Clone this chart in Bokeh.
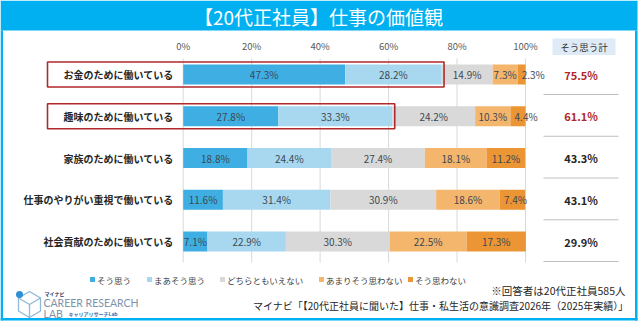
from bokeh.plotting import figure
from bokeh.models import Range1d
from bokeh.core.properties import value
from bokeh.embed import file_html
from bokeh.resources import INLINE

# ---------------- data ----------------
title = "【20代正社員】仕事の価値観"
categories = ["お金のために働いている", "趣味のために働いている", "家族のために働いている",
              "仕事のやりがい重視で働いている", "社会貢献のために働いている"]
series_names = ["そう思う", "まあそう思う", "どちらともいえない", "あまりそう思わない", "そう思わない"]
sou_omou = [47.3, 27.8, 18.8, 11.6, 7.1]
maa_sou_omou = [28.2, 33.3, 24.4, 31.4, 22.9]
dochira = [14.9, 24.2, 27.4, 30.9, 30.3]
amari = [7.3, 10.3, 18.1, 18.6, 22.5]
sou_omowanai = [2.3, 4.4, 11.2, 7.4, 17.3]
total_label = "そう思う計"
totals = [75.5, 61.1, 43.3, 43.1, 29.9]
highlight = [True, True, False, False, False]
x_ticks = [0, 20, 40, 60, 80, 100]
x_tick_labels = ["0%", "20%", "40%", "60%", "80%", "100%"]
note1 = "※回答者は20代正社員585人"
note2 = "マイナビ「【20代正社員に聞いた】仕事・私生活の意識調査2026年（2025年実績）」"

# ---------------- style ----------------
FONT = "Noto Sans CJK JP"
colors = ["#3FAFE3", "#A8D8F0", "#D9D9D9", "#F4B56D", "#EC9535"]
CYAN = "#00B0F0"
LABEL_COLOR = "#3D4852"
X0, S = 182.7, 3.423          # pixel of 0 %, pixels per 1 %


def X(px):
    return (px - X0) / S


p = figure(width=641, height=321, x_range=Range1d(X(0), X(641)), y_range=Range1d(321, 0),
           output_backend="svg", toolbar_location=None, min_border=0,
           x_axis_location=None, y_axis_location=None)
p.grid.visible = False
p.outline_line_color = None
p.background_fill_color = "white"
p.border_fill_color = "white"

# frame and title band
p.quad(left=[X(0)], right=[X(637)], top=[0], bottom=[30], fill_color=CYAN, line_color=None)
p.quad(left=[X(0), X(634.5), X(0)], right=[X(2.5), X(637), X(637)], top=[30, 30, 317.5],
       bottom=[320, 320, 320], fill_color=CYAN, line_color=None)
p.text(x=[X(318)], y=[15.5], text=[title], text_align="center", text_baseline="middle",
       text_font=value(FONT), text_font_size="19px", text_color="white")

# rows
n = len(categories)
row_y = [74 + 41.75 * i for i in range(n)]

# grid lines + tick labels
p.segment(x0=x_ticks, x1=x_ticks, y0=[58] * 6, y1=[262] * 6, line_color="#D9D9D9", line_width=1)
p.text(x=x_ticks, y=[45] * 6, text=x_tick_labels, text_align="center", text_baseline="middle",
       text_font=value(FONT), text_font_size="9.5px", text_color="#595959")

# stacked bars
all_series = [sou_omou, maa_sou_omou, dochira, amari, sou_omowanai]
cum = [0.0] * n
for si, vals in enumerate(all_series):
    left = cum[:]
    right = [l + v for l, v in zip(left, vals)]
    p.hbar(y=row_y, left=left, right=right, height=20, fill_color=colors[si], line_color=None)
    last = si == len(all_series) - 1
    cx, cy, ct, lx, ly, lt = [], [], [], [], [], []
    for l, v, y in zip(left, vals, row_y):
        if last and v < 8:
            lx.append(l + 1.2); ly.append(y); lt.append(f"{v}%")
        else:
            cx.append(l + v / 2); cy.append(y); ct.append(f"{v}%")
    if cx:
        p.text(x=cx, y=cy, text=ct, text_align="center", text_baseline="middle",
               text_font=value(FONT), text_font_size="10px", text_color=LABEL_COLOR)
    if lx:
        p.text(x=lx, y=ly, text=lt, text_align="left", text_baseline="middle",
               text_font=value(FONT), text_font_size="10px", text_color=LABEL_COLOR)
    cum = right

# category labels
p.text(x=[X(173)] * n, y=row_y, text=categories, text_align="right", text_baseline="middle",
       text_font=value(FONT), text_font_size="10px", text_font_style="bold", text_color="#262626")

# red highlight boxes
hb_y = [y for y, h in zip(row_y, highlight) if h]
hb_r = [a + b + 0.7 for a, b, h in zip(sou_omou, maa_sou_omou, highlight) if h]
p.quad(left=[X(47)] * len(hb_y), right=hb_r, top=[y - 12.5 for y in hb_y],
       bottom=[y + 12.5 for y in hb_y], fill_color=None, line_color="#B0292B", line_width=1.6)

# right column: header + totals
p.quad(left=[X(552)], right=[X(615)], top=[38], bottom=[54.5], fill_color="#DEEBF7", line_color=None)
p.text(x=[X(583.5)], y=[46], text=[total_label], text_align="center", text_baseline="middle",
       text_font=value(FONT), text_font_size="9.5px", text_color="#333333")
p.text(x=[X(580.5)] * n, y=row_y, text=[f"{v}%" for v in totals], text_align="center",
       text_baseline="middle", text_font=value(FONT), text_font_size="11px", text_font_style="bold",
       text_color=["#B0292B" if h else "#262626" for h in highlight])
p.segment(x0=[X(543)] * n, x1=[X(618)] * n, y0=[y + 20 for y in row_y], y1=[y + 20 for y in row_y],
          line_color="#BFBFBF", line_width=1)

# legend
leg_x = [92, 149, 222, 321, 410]
p.scatter(x=[X(v) for v in leg_x], y=[279] * 5, marker="square", size=5, fill_color=colors,
          line_color=None)
p.text(x=[X(v + 4.5) for v in leg_x], y=[279] * 5, text=series_names, text_align="left",
       text_baseline="middle", text_font=value(FONT), text_font_size="8.5px", text_color="#404040")

# notes
p.text(x=[X(625)], y=[290], text=[note1], text_align="right", text_baseline="middle",
       text_font=value(FONT), text_font_size="10.5px", text_color="#262626")
p.text(x=[X(628)], y=[305], text=[note2], text_align="right", text_baseline="middle",
       text_font=value(FONT), text_font_size="10px", text_color="#262626")

# logo (decoration)
LC = "#8FB8D8"
hx = [X(v) for v in [29, 40, 40, 29, 18, 18, 29]]
hy = [291, 297.5, 310.5, 317, 310.5, 297.5, 291]
p.line(x=hx, y=hy, line_color=LC, line_width=1.3)
p.line(x=[X(18), X(29), X(40)], y=[297.5, 304, 297.5], line_color=LC, line_width=1.3)
p.line(x=[X(29), X(29)], y=[304, 317], line_color=LC, line_width=1.3)
p.scatter(x=[X(19)], y=[294], size=7, fill_color="#2E8FD6", line_color=None)
p.text(x=[X(44)], y=[292.5], text=["マイナビ"], text_align="left", text_baseline="middle",
       text_font=value(FONT), text_font_size="5px", text_font_style="bold", text_color="#1F3864")
p.text(x=[X(43)], y=[302.5], text=["CAREER RESEARCH"], text_align="left", text_baseline="middle",
       text_font=value("Lato"), text_font_size="10.5px", text_color="#7E93AA")
p.text(x=[X(43)], y=[313], text=["LAB"], text_align="left", text_baseline="middle",
       text_font=value("Lato"), text_font_size="10.5px", text_color="#7E93AA")
p.text(x=[X(68)], y=[313], text=["キャリアリサーチLab"], text_align="left", text_baseline="middle",
       text_font=value(FONT), text_font_size="5px", text_font_style="bold", text_color="#2E6DB4")

open("out.html", "w").write(file_html(p, INLINE))
